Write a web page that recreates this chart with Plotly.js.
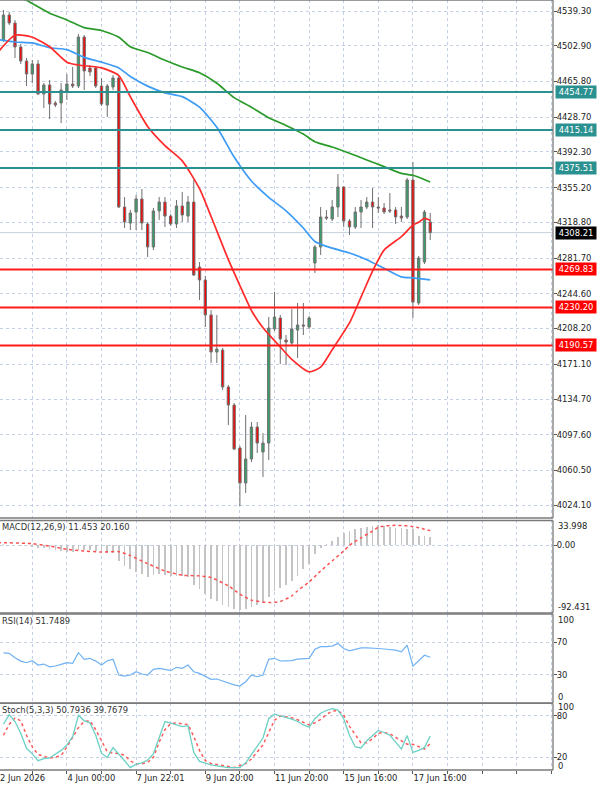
<!DOCTYPE html>
<html><head><meta charset="utf-8">
<script src="https://cdn.plot.ly/plotly-3.0.1.min.js"></script>
<style>html,body{margin:0;padding:0;background:#fff;overflow:hidden}#chart{width:600px;height:789px}</style>
</head><body><div id="chart"></div>
<script>
// ---- price bars (H4) ----
const open = [4509.1,4535.2,4526.8,4501.8,4487.2,4473.6,4484.1,4452.8,4462.2,4443.4,
4443.4,4455.9,4463.2,4461.1,4512.2,4479.9,4479.9,4461.1,4441.3,4460.1,
4469.5,4334.9,4318.2,4329.7,4343.3,4317.2,4293.2,4330.8,4340.1,4325.5,
4317.2,4336.0,4325.5,4340.1,4272.3,4258.8,4222.3,4183.7,4185.8,4147.2,
4128.4,4083.6,4047.1,4072.1,4105.5,4079.4,4088.8,4207.7,4219.2,4196.2,
4193.1,4206.6,4211.9,4209.8,4276.5,4293.2,4324.5,4322.4,4334.9,4355.8,
4320.3,4314.1,4329.7,4334.9,4340.1,4334.9,4333.9,4331.8,4331.8,4325.5,
4324.5,4363.1,4234.8,4277.6,4319.3];
const high = [4540.4,4538.3,4529.9,4504.9,4490.3,4488.2,4488.2,4464.2,4467.4,4445.5,
4464.2,4473.6,4480.9,4515.3,4514.3,4483.0,4482.0,4469.5,4463.2,4472.6,
4471.5,4345.3,4331.8,4347.4,4353.7,4319.3,4333.9,4345.3,4345.3,4327.6,
4342.2,4350.6,4346.4,4363.1,4277.6,4263.0,4227.5,4222.3,4187.9,4149.3,
4130.5,4085.7,4118.0,4110.7,4110.7,4099.2,4220.2,4246.3,4222.3,4201.4,
4228.5,4234.8,4234.8,4221.2,4295.3,4334.9,4331.8,4342.2,4369.3,4356.8,
4322.4,4334.9,4342.2,4345.3,4354.7,4345.3,4339.1,4349.5,4334.9,4334.9,
4365.2,4381.9,4283.8,4331.8,4328.7];
const low = [4507.0,4524.7,4490.3,4484.1,4461.1,4464.2,4451.7,4438.2,4426.7,4439.2,
4422.5,4446.5,4459.0,4459.0,4456.9,4471.5,4459.0,4440.3,4428.8,4456.9,
4333.9,4313.0,4310.9,4310.9,4310.9,4282.8,4290.1,4321.4,4314.1,4315.1,
4313.0,4319.3,4319.3,4263.0,4237.9,4209.8,4172.2,4172.2,4144.1,4107.6,
4081.5,4023.1,4036.7,4069.0,4078.4,4053.3,4071.1,4205.6,4171.2,4170.1,
4191.0,4177.4,4201.4,4207.7,4266.1,4284.9,4321.4,4320.3,4324.5,4314.1,
4305.7,4312.0,4313.0,4332.8,4313.0,4328.7,4327.6,4328.7,4317.2,4319.3,
4322.4,4219.2,4232.7,4275.5,4300.5];
const close = [4535.2,4526.8,4501.8,4487.2,4473.6,4484.1,4452.8,4462.2,4442.3,4441.3,
4456.9,4463.2,4461.1,4512.2,4476.8,4475.7,4461.1,4442.3,4461.1,4469.5,
4334.9,4319.3,4328.7,4343.3,4318.2,4293.2,4330.8,4340.1,4325.5,4317.2,
4336.0,4326.6,4340.1,4264.0,4258.8,4222.3,4183.7,4186.8,4147.2,4128.4,
4082.5,4047.1,4072.1,4105.5,4088.8,4088.8,4208.7,4220.2,4197.3,4194.1,
4207.7,4211.9,4210.8,4219.2,4293.2,4324.5,4323.4,4334.9,4355.8,4320.3,
4314.1,4329.7,4334.9,4340.1,4334.9,4333.9,4329.7,4330.8,4324.5,4323.4,
4363.1,4235.8,4281.7,4329.7,4308.21];

// ---- moving averages (read at bar positions) ----
const maFastIdx = [-1,2,5,8,11,13,17,20,22,25,28,31,34,36,39,41,43,45,48,50,53,55,57,60,62,64,66,69,71,72,73,74];
const maFastVal = [4496,4514,4512,4502,4486,4483,4480,4472,4450,4419,4399,4383,4354,4325,4280,4253,4227,4209,4189,4176,4163,4168,4186,4214,4241,4268,4290,4304,4316,4319,4323,4321];
const maMidIdx = [-1,2,5,8,11,14,17,20,22,25,28,31,34,37,40,43,46,49,52,54,57,60,63,66,69,71,74];
const maMidVal = [4509.5,4507,4506,4501,4499,4491,4486,4480,4471,4461,4454,4450,4439,4418,4387,4362,4345,4331,4313,4299,4292,4287,4280,4271,4262,4261,4259];
const maSlowIdx = [-1,3,4,8,11,14,17,20,22,25,28,31,34,37,40,43,46,49,52,54,57,60,63,66,69,71,72,74];
const maSlowVal = [4566,4553,4550.5,4537,4530,4522,4519,4512,4502,4496,4488,4481,4475,4464,4449,4439,4428,4420,4411,4403,4397.5,4391,4384,4377,4370,4368,4366,4361];

// ---- horizontal levels ----
const levelsTeal = [4454.77, 4415.14, 4375.51];
const levelsRed = [4269.83, 4230.20, 4190.57];
const lastPrice = 4308.21;
const priceTicks = [4539.30,4502.90,4465.80,4428.70,4392.30,4355.20,4318.80,4281.70,4244.60,4208.20,4171.10,4134.70,4097.60,4060.50,4024.10];

// ---- MACD(12,26,9) ----
const macdMain = [2,1,0.5,-0.5,-1.5,-2.5,-3.2,-4.1,-5.4,-6.8,
-7.7,-8.6,-8.6,-6.8,-5.9,-6.8,-7.7,-9.5,-10.4,-10.0,
-21.3,-28,-32.7,-35.8,-39.5,-42.6,-40.8,-39.5,-40.4,-42.2,
-42.2,-42.2,-43.1,-54,-59.9,-66.7,-73.5,-76.6,-81.2,-84.8,
-87.1,-88.4,-87.1,-83.9,-81.2,-79.4,-70.3,-63,-58.5,-54,
-48.5,-41.7,-32.7,-25.9,-12.2,-4,2,6,11,17,
20,22,24,25,27,28,27,25,24,24,
23,22,13,13,11.453];
const macdSigIdx = [-1,5,8,11,14,17,20,22,25,28,31,34,36,39,41,43,46,48,50,51,53,55,57,59,60,62,64,65,67,69,71,72,74];
const macdSigVal = [3.8,2.3,-0.9,-5.4,-7.7,-9.1,-8.6,-14,-25,-35,-40.8,-41.7,-44,-55.3,-66.7,-74.8,-78,-76.6,-69,-62,-50,-35,-21.3,-7.7,0,10.4,19.5,24.9,27.2,27.2,25.9,24,20.16];

// ---- RSI(14) ----
const rsi = [57,56.5,51,47,45,47.5,42.2,43.4,40,41,
43,45,44.3,57.3,49.2,50.4,47,42.2,47.5,49.2,
30,28.7,30,34,31.2,30,36.9,38.1,36.9,35.3,
39.4,38.1,42.2,34,32,28.7,24.7,25.1,22.6,19.8,
18,16.5,21.8,30,27.9,30,49.2,50.4,47.1,47.3,
47.5,49.5,50.4,50.4,61.4,64.6,64.6,65.4,68.5,62.4,
59.6,61.6,63.2,63.2,62.4,62.4,61.8,61.2,60.4,58.3,
66.5,40.8,48.1,54.2,51.7489];

// ---- Stochastic(5,3,3) ----
const stochK = [68,82,72,55,33,25,15,18,19,24,
30,38,50,81,73,70,52,26,19.6,34,
25,15,5,10,12,16,25,50,72,69.6,
67.6,64.7,66,27,14,11,9,7.4,6,5,
5,5,12,24,36,48,76,83,80,78,
75.5,72,67,63.7,76,84,88,90.7,88.5,76,
52,35,33.5,44,52,59,56,52,42,32,
51.5,27,30,34,50.7936];
const stochD = [52,68,77,73,52,35,24,21,19,20,
22.5,35,50,63,72,73,60,44,28,26,
25.5,23,14.7,10.5,10.5,12.5,20,42,60,69,
70,68.6,67.6,50,30,15,11,9.5,7.5,6.5,
5,8,11,17.5,28,38,56,74,80,79,
77.5,74.5,71,67,70,75,82,87,88,81,
65,52,41,41,47,55,56,54,49,43,
39,39,36,32,39.7679];

// ---- time axis labels ----
const xTickVals = [5,11,17,23,29,35,41,47,53,59,65,71,77,83,89,95];
const xTickText = ['','4 Jun 00:00','','7 Jun 22:01','','9 Jun 20:00','','11 Jun 20:00','','15 Jun 16:00','','17 Jun 16:00','','','',''];
const firstLabel = '2 Jun 2026';

const bars = open.map((_, i) => i);

const GRID = '#c3d0e6';
const FONT = 'DejaVu Sans, Verdana, sans-serif';
const FS = 8.4;
const TEAL = '#2a9090';

// panel domains (paper fractions, plot height 770 px)
const dMain = [0.32727, 1];
const dMacd = [0.2039, 0.32403];
const dRsi = [0.08701, 0.2026];
const dSto = [0, 0.0864];

const traces = [
  {type:'candlestick', x:bars, open, high, low, close, xaxis:'x', yaxis:'y',
   increasing:{line:{color:'#707070', width:1}, fillcolor:'#36a06a'},
   decreasing:{line:{color:'#707070', width:1}, fillcolor:'#ff0000'},
   whiskerwidth:0, hoverinfo:'skip'},
  {type:'scatter', mode:'lines', x:maSlowIdx, y:maSlowVal, yaxis:'y', line:{color:'#2a9a2a', width:1.7, shape:'spline', smoothing:0.6}},
  {type:'scatter', mode:'lines', x:maMidIdx, y:maMidVal, yaxis:'y', line:{color:'#3d9cf5', width:1.7, shape:'spline', smoothing:0.6}},
  {type:'scatter', mode:'lines', x:maFastIdx, y:maFastVal, yaxis:'y', line:{color:'#ff2a2a', width:1.7, shape:'spline', smoothing:0.6}},
  {type:'bar', x:bars, y:macdMain, yaxis:'y2', width:0.3, marker:{color:'#c4c4c4', line:{width:0}}},
  {type:'scatter', mode:'lines', x:macdSigIdx, y:macdSigVal, yaxis:'y2', line:{color:'#ff5050', width:1.5, dash:'dot', shape:'spline', smoothing:0.6}},
  {type:'scatter', mode:'lines', x:bars, y:rsi, yaxis:'y3', line:{color:'#70b2f4', width:1.2}},
  {type:'scatter', mode:'lines', x:bars, y:stochD, yaxis:'y4', line:{color:'#ff5a5a', width:1.5, dash:'dot'}},
  {type:'scatter', mode:'lines', x:bars, y:stochK, yaxis:'y4', line:{color:'#6cd0c4', width:1.3}}
];

const yBase = {side:'right', anchor:'x', showgrid:true, gridcolor:GRID, griddash:'dot', gridwidth:1,
  zeroline:false, ticks:'outside', ticklen:3, tickcolor:'#555', showline:false, fixedrange:true,
  ticklabelstandoff:-2, tickfont:{family:FONT, size:FS, color:'#222'}};

const shapes = [];
levelsTeal.forEach(v => shapes.push({type:'line', xref:'paper', x0:0, x1:1, yref:'y', y0:v, y1:v, line:{color:TEAL, width:2}}));
levelsRed.forEach(v => shapes.push({type:'line', xref:'paper', x0:0, x1:1, yref:'y', y0:v, y1:v, line:{color:'#ff1a1a', width:2}}));
shapes.push({type:'line', xref:'paper', x0:0, x1:1, yref:'y', y0:lastPrice, y1:lastPrice, line:{color:'#c6cfdc', width:1}, layer:'below'});
// panel frames
[dMain, dMacd, dRsi, dSto].forEach(d => {
  shapes.push({type:'line', xref:'paper', yref:'paper', x0:0, x1:1, y0:d[0], y1:d[0], line:{color:'#7a7a7a', width:1.3}});
  shapes.push({type:'line', xref:'paper', yref:'paper', x0:0, x1:1, y0:d[1], y1:d[1], line:{color:'#7a7a7a', width:1.3}});
  shapes.push({type:'line', xref:'paper', yref:'paper', x0:1, x1:1, y0:d[0], y1:d[1], line:{color:'#7a7a7a', width:1.3}});
});

const ann = [];
const boxX = 1.0036;
function lvl(v, bg){ ann.push({xref:'paper', x:boxX, xanchor:'left', yref:'y', y:v, yanchor:'middle', text:v.toFixed(2), showarrow:false,
  bgcolor:bg, borderpad:1, width:38, align:'center', font:{family:FONT, size:FS, color:'#fff'}}); }
levelsTeal.forEach(v => lvl(v, TEAL));
levelsRed.forEach(v => lvl(v, '#ff0000'));
lvl(lastPrice, '#000000');
function edge(ref, top, text, dy){ ann.push({xref:'paper', x:1.0067, xanchor:'left', yref:ref+' domain', y: top?1:0, yanchor: top?'top':'bottom',
  yshift: dy||0, text, showarrow:false, borderpad:0, font:{family:FONT, size:FS, color:'#222'}}); }
edge('y2', true, '33.998'); edge('y2', false, '-92.431');
edge('y3', true, '100'); edge('y3', false, '0');
edge('y4', true, '100', 2); edge('y4', false, '0', -2);
function head(ref, text){ ann.push({xref:'paper', x:0.002, xanchor:'left', yref:ref+' domain', y:1, yanchor:'top', yshift:-1,
  text, showarrow:false, borderpad:0, font:{family:FONT, size:FS, color:'#333'}}); }
head('y2', 'MACD(12,26,9) 11.453 20.160');
head('y3', 'RSI(14) 51.7489');
head('y4', 'Stoch(5,3,3) 50.7936 39.7679');
ann.push({xref:'paper', x:0, xanchor:'left', xshift:-1, yref:'paper', y:0, yanchor:'top', yshift:-2, text:firstLabel,
  showarrow:false, borderpad:0, font:{family:FONT, size:FS, color:'#222'}});

const layout = {
  width:600, height:789, margin:{l:0, r:47, t:0, b:19},
  paper_bgcolor:'#ffffff', plot_bgcolor:'#ffffff', showlegend:false, hovermode:false,
  boxgap:0.42, bargap:0,
  font:{family:FONT, size:FS, color:'#222'},
  xaxis:{range:[-0.6, 95.29], anchor:'y4', tickmode:'array', tickvals:xTickVals, ticktext:xTickText,
    showgrid:true, gridcolor:GRID, griddash:'dot', gridwidth:1, ticks:'outside', ticklen:3, tickcolor:'#555',
    ticklabelposition:'outside right', zeroline:false, showline:false, fixedrange:true,
    rangeslider:{visible:false}, tickfont:{family:FONT, size:FS, color:'#222'}},
  yaxis: Object.assign({}, yBase, {domain:dMain, range:[4010.6, 4550.8], tickmode:'array', tickvals:priceTicks, tickformat:'.2f'}),
  yaxis2: Object.assign({}, yBase, {domain:dMacd, range:[-92.431, 33.998], tickmode:'array', tickvals:[0], ticktext:['0.00']}),
  yaxis3: Object.assign({}, yBase, {domain:dRsi, range:[-4.25, 104.6], tickmode:'array', tickvals:[30,70], ticktext:['30','70']}),
  yaxis4: Object.assign({}, yBase, {domain:dSto, range:[1.5, 98.2], tickmode:'array', tickvals:[20,80], ticktext:['20','80']}),
  shapes, annotations:ann
};

Plotly.newPlot('chart', traces, layout, {staticPlot:true, displayModeBar:false});
</script>
</body></html>
